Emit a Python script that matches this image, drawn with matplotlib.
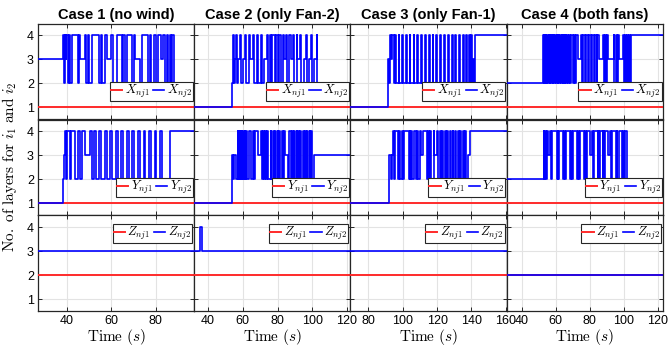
import matplotlib
matplotlib.use("Agg")
import matplotlib.pyplot as plt

plt.rcParams['mathtext.fontset'] = 'cm'
plt.rcParams['font.family'] = ['Liberation Sans', 'DejaVu Sans']

titles = ["Case 1 (no wind)", "Case 2 (only Fan-2)", "Case 3 (only Fan-1)", "Case 4 (both fans)"]
xlims = [(27, 97.3), (32, 122), (69.5, 160.5), (31, 123)]
xticks = [[40, 60, 80], [40, 60, 80, 100, 120], [80, 100, 120, 140, 160], [40, 60, 80, 100, 120]]

# constant first-layer counts (X_nj1, Y_nj1, Z_nj1)
x1_level = 1
y1_level = 1
z1_level = 2

# ---- Case 1 ----
c1_x2_t = [27, 38.2, 38.6, 39.0, 39.4, 39.8, 40.3, 41.0, 41.5, 42.3, 44.8, 45.4, 46.0, 48.0, 48.6, 49.3, 50.0,
           51.5, 54.5, 55.2, 55.8, 57.2, 58.0, 60.0, 60.6, 62.5, 64.8, 65.4, 66.0, 67.0, 69.5, 70.2, 70.8, 73.0,
           74.0, 76.5, 77.2, 78.0, 79.0, 80.3, 81.0, 82.5, 83.2, 84.3, 85.0, 85.6, 86.2, 87.0, 87.5, 88.3, 97.3]
c1_x2_v = [3, 4, 2, 4, 3, 4, 2, 4, 2, 4, 2, 4, 3, 4, 2, 4, 2,
           4, 2, 4, 2, 4, 3, 4, 2, 4, 2, 4, 2, 4, 2, 4, 3, 2,
           4, 2, 4, 2, 4, 2, 4, 3, 4, 2, 4, 2, 4, 2, 4, 2, 2]
c1_y2_t = [27, 38.4, 38.8, 39.1, 39.6, 40.2, 41.2, 42.0, 43.5, 44.8, 45.8, 47.0, 48.2, 50.5, 51.3, 52.0, 53.0,
           54.5, 55.3, 57.0, 58.0, 59.5, 60.3, 62.0, 62.8, 64.5, 65.3, 67.0, 67.8, 69.5, 70.2, 72.0, 72.8, 74.5,
           75.3, 77.0, 77.7, 79.5, 80.2, 82.0, 82.7, 86.6, 97.3]
c1_y2_v = [1, 2, 3, 4, 2, 4, 2, 4, 2, 4, 2, 4, 3, 4, 2, 4, 2,
           4, 2, 4, 2, 4, 2, 4, 2, 4, 2, 4, 2, 4, 2, 4, 2, 4,
           2, 4, 2, 4, 2, 4, 2, 4, 4]
c1_z2_t = [27, 97.3]
c1_z2_v = [3, 3]

# ---- Case 2 ----
c2_x2_t = [32, 53.7, 54.2, 54.6, 55.0, 55.5, 56.0, 56.4, 57.0, 58.5, 59.0, 60.0, 61.5, 62.0, 63.5, 64.0, 66.0,
           66.5, 68.0, 68.6, 70.5, 71.0, 72.5, 74.0, 74.6, 75.5, 76.0, 77.0, 78.5, 79.3, 80.5, 81.0, 82.0, 83.0,
           84.0, 85.0, 85.6, 86.5, 87.5, 89.0, 89.6, 91.0, 91.5, 93.0, 93.5, 95.0, 96.5, 97.0, 98.0, 99.5,
           100.0, 101.0, 102.5, 103.0, 122]
c2_x2_v = [1, 2, 3, 4, 2, 3, 4, 2, 3, 4, 2, 3, 4, 2, 4, 3, 4,
           2, 4, 2, 4, 2, 3, 4, 2, 4, 2, 4, 2, 4, 2, 4, 2, 4,
           3, 4, 2, 4, 3, 4, 2, 4, 3, 4, 2, 3, 4, 2, 3, 4,
           2, 3, 4, 2, 2]
c2_y2_t = [32, 53.7, 54.3, 55.2, 56.0, 57.0, 57.3, 57.6, 57.9, 58.2, 58.5, 58.8, 59.1, 59.4, 59.7, 60.0, 60.5,
           61.0, 61.3, 62.0, 62.3, 63.5, 64.5, 66.0, 66.3, 67.0, 68.5, 70.5, 70.8, 71.5, 72.0, 73.0, 73.3, 74.0,
           74.5, 76.0, 76.3, 77.5, 77.8, 78.5, 79.0, 80.0, 80.3, 81.0, 81.3, 82.5, 83.0, 84.0, 84.5, 86.0, 86.5,
           87.5, 88.5, 88.8, 89.5, 89.8, 91.0, 91.3, 92.0, 92.3, 93.0, 93.5, 94.5, 95.0, 96.0, 96.3, 97.0, 97.5,
           98.5, 98.8, 99.5, 100.0, 101.0, 122]
c2_y2_v = [1, 3, 2, 3, 2, 4, 2, 4, 2, 4, 2, 4, 2, 4, 2, 4, 2,
           4, 2, 4, 2, 4, 2, 4, 2, 4, 3, 4, 2, 4, 2, 4, 2, 4,
           2, 4, 2, 4, 2, 4, 2, 4, 2, 4, 2, 4, 2, 4, 3, 2, 4,
           2, 4, 2, 4, 2, 4, 2, 4, 2, 4, 2, 4, 2, 4, 2, 4, 2,
           4, 2, 4, 2, 3, 3]
c2_z2_t = [32, 35.3, 36.3, 122]
c2_z2_v = [3, 4, 3, 3]

# ---- Case 3 ----
c3_x2_t = [69.5, 91.4, 92.0, 92.5, 93.0, 94.0, 94.8, 95.5, 96.2, 97.6, 98.0, 99.8, 100.2, 102.0, 102.5, 104.0,
           104.5, 106.3, 106.7, 108.5, 109.0, 110.7, 111.2, 113.0, 113.4, 115.2, 115.7, 117.4, 117.9, 119.6,
           120.0, 121.8, 122.3, 124.0, 124.5, 126.2, 126.7, 128.5, 129.0, 130.7, 131.2, 132.8, 133.3, 135.0,
           135.5, 137.0, 137.5, 138.5, 139.0, 140.0, 140.4, 141.0, 141.5, 142.2, 160.5]
c3_x2_v = [1, 3, 2, 4, 3, 4, 2, 4, 2, 4, 2, 4, 2, 4, 2, 4,
           2, 4, 2, 4, 2, 4, 2, 4, 2, 4, 2, 4, 2, 4,
           2, 4, 2, 4, 2, 4, 2, 4, 2, 4, 2, 4, 2, 4,
           2, 4, 2, 4, 2, 4, 2, 3, 2, 4, 4]
c3_y2_t = [69.5, 92.0, 93.0, 93.5, 94.5, 94.9, 95.5, 97.5, 98.0, 98.5, 99.5, 100.0, 101.0, 103.5, 104.0, 104.5,
           105.0, 105.5, 106.5, 108.0, 108.5, 109.0, 110.0, 110.5, 112.0, 114.0, 114.5, 115.0, 116.0, 116.5,
           118.0, 118.4, 120.0, 120.5, 121.5, 122.0, 123.0, 123.5, 124.5, 125.0, 126.0, 126.5, 127.5, 128.0,
           129.0, 129.5, 130.5, 131.0, 132.0, 132.5, 133.5, 134.0, 135.0, 135.5, 136.5, 137.0, 138.0, 139.0, 160.5]
c3_y2_v = [1, 3, 2, 3, 4, 2, 4, 2, 4, 2, 4, 2, 4, 2, 4, 2,
           4, 2, 4, 2, 4, 2, 4, 3, 4, 2, 4, 2, 4, 2,
           4, 3, 4, 2, 4, 2, 4, 2, 4, 2, 4, 2, 4, 2,
           4, 2, 4, 2, 4, 2, 4, 2, 4, 2, 4, 2, 3, 4, 4]
c3_z2_t = [69.5, 160.5]
c3_z2_v = [3, 3]

# ---- Case 4 ----
c4_x2_t = [31, 52.4, 52.8, 53.2, 53.6, 54.0, 54.5, 55.0, 55.3, 55.7, 56.3, 56.7, 57.2, 57.6, 58.2, 58.6, 59.0,
           59.5, 60.0, 60.4, 61.0, 61.4, 62.0, 62.5, 63.0, 63.5, 64.0, 64.5, 65.2, 65.6, 66.2, 66.7, 67.3, 67.8,
           68.6, 69.0, 70.0, 70.5, 71.5, 72.0, 73.3, 75.0, 75.5, 76.0, 77.3, 78.0, 79.0, 79.5, 81.0, 81.5, 82.5,
           83.0, 84.0, 84.5, 85.2, 88.0, 88.5, 89.0, 89.5, 90.3, 90.8, 94.0, 94.5, 95.3, 95.8, 96.5, 97.0, 99.5,
           100.0, 100.8, 101.3, 102.0, 102.5, 103.3, 103.7, 104.3, 123]
c4_x2_v = [2, 4, 2, 4, 2, 4, 2, 4, 2, 4, 2, 4, 2, 4, 2, 4, 2,
           4, 2, 4, 2, 4, 2, 4, 2, 4, 2, 4, 2, 4, 2, 4, 2, 4,
           2, 4, 2, 4, 2, 4, 3, 4, 2, 4, 2, 4, 2, 4, 2, 4, 2,
           4, 2, 4, 3, 4, 2, 4, 2, 4, 3, 4, 2, 4, 2, 4, 3, 4,
           2, 4, 2, 4, 2, 4, 2, 4, 4]
c4_y2_t = [31, 52.8, 53.3, 53.8, 54.3, 55.0, 55.4, 56.3, 57.0, 57.5, 60.5, 61.0, 61.4, 62.0, 64.5, 65.0, 65.4,
           66.0, 68.5, 69.0, 69.4, 70.0, 72.5, 73.0, 73.4, 74.0, 76.8, 77.3, 77.7, 78.3, 80.0, 81.5, 81.9, 82.5,
           84.6, 85.0, 85.4, 86.0, 87.5, 88.0, 88.4, 89.0, 90.5, 92.0, 92.4, 93.0, 95.3, 95.8, 96.2, 97.0, 99.0,
           99.5, 99.9, 100.8, 101.8, 123]
c4_y2_v = [2, 4, 2, 4, 2, 4, 3, 4, 2, 4, 2, 4, 2, 4, 2, 4, 2,
           4, 2, 4, 2, 4, 2, 4, 2, 4, 2, 4, 2, 4, 3, 4, 2, 4,
           2, 4, 2, 4, 2, 4, 2, 4, 3, 4, 2, 4, 2, 4, 2, 4, 2,
           4, 2, 4, 2, 2]
c4_z2_t = [31, 123]
c4_z2_v = [2, 2]

x2_series = [(c1_x2_t, c1_x2_v), (c2_x2_t, c2_x2_v), (c3_x2_t, c3_x2_v), (c4_x2_t, c4_x2_v)]
y2_series = [(c1_y2_t, c1_y2_v), (c2_y2_t, c2_y2_v), (c3_y2_t, c3_y2_v), (c4_y2_t, c4_y2_v)]
z2_series = [(c1_z2_t, c1_z2_v), (c2_z2_t, c2_z2_v), (c3_z2_t, c3_z2_v), (c4_z2_t, c4_z2_v)]
row_names = ["X", "Y", "Z"]
row_first = [x1_level, y1_level, z1_level]
row_second = [x2_series, y2_series, z2_series]

RED = "#ff2a2a"
BLUE = "#0000ff"

fig = plt.figure(figsize=(6.69, 3.51), dpi=100)
W, H = 669.0, 351.0
col_left = [38, 194.2, 350.4, 506.6]
col_w = 156.2
row_top = [23.5, 119.5, 215.2]
row_h = 95.8

leg_kw = dict(ncol=2, fontsize=9, handlelength=0.9, handletextpad=0.2, columnspacing=0.3,
              borderpad=0.08, borderaxespad=0.1, fancybox=False, framealpha=1)

for r in range(3):
    for c in range(4):
        ax = fig.add_axes([col_left[c] / W, 1 - (row_top[r] + row_h) / H, col_w / W, row_h / H])
        lo, hi = xlims[c]
        t2, v2 = row_second[r][c]
        name = row_names[r]
        ax.plot([lo, hi], [row_first[r]] * 2, color=RED, lw=1.4, label=r"$%s_{nj1}$" % name, zorder=3)
        ax.step(t2, v2, where="post", color=BLUE, lw=1.2, label=r"$%s_{nj2}$" % name, zorder=4)
        ax.set_xlim(lo, hi)
        ax.set_ylim(0.5, 4.5)
        ax.set_yticks([1, 2, 3, 4])
        ax.set_xticks(xticks[c])
        ax.grid(True, color="#e3e3e3", lw=0.8)
        ax.set_axisbelow(True)
        ax.tick_params(direction="in", top=True, right=True, length=3, width=0.7,
                       labelsize=9, color="#262626", pad=3)
        for sp in ax.spines.values():
            sp.set_color("#262626")
            sp.set_linewidth(0.9)
        if c != 0:
            ax.tick_params(labelleft=False)
        if r != 2:
            ax.tick_params(labelbottom=False)
        else:
            ax.set_xlabel(r"$\mathrm{Time}\ (s)$", fontsize=11, labelpad=0)
        if r == 0:
            ax.set_title(titles[c], fontsize=10.5, fontweight="bold", pad=3)
        if r < 2:
            leg = ax.legend(loc="lower right", bbox_to_anchor=(1.0, 0.175), **leg_kw)
        else:
            leg = ax.legend(loc="upper right", bbox_to_anchor=(0.995, 0.92), **leg_kw)
        leg.get_frame().set_edgecolor("#262626")
        leg.get_frame().set_linewidth(0.8)

fig.text(10 / W, 1 - 167 / H, r"$\mathrm{No.\ of\ layers\ for\ }i_1\mathrm{\ and\ }i_2$",
         rotation=90, ha="center", va="center", fontsize=11)

fig.savefig("out.png", dpi=100)
